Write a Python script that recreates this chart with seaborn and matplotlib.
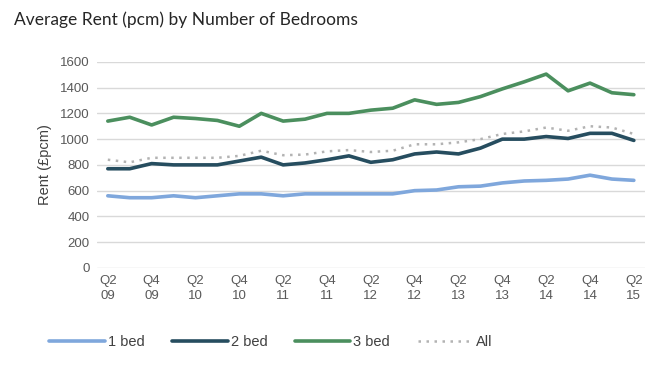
import numpy as np
import pandas as pd
import matplotlib
matplotlib.use("Agg")
import matplotlib.pyplot as plt
import seaborn as sns

# quarters Q2 2009 .. Q2 2015
quarters = ["Q2 09", "Q3 09", "Q4 09", "Q1 10", "Q2 10", "Q3 10", "Q4 10", "Q1 11",
            "Q2 11", "Q3 11", "Q4 11", "Q1 12", "Q2 12", "Q3 12", "Q4 12", "Q1 13",
            "Q2 13", "Q3 13", "Q4 13", "Q1 14", "Q2 14", "Q3 14", "Q4 14", "Q1 15",
            "Q2 15"]

one_bed = [560, 545, 545, 560, 545, 560, 575, 575, 560, 575, 575, 575, 575,
           575, 600, 605, 630, 635, 660, 675, 680, 690, 720, 690, 680]
two_bed = [770, 770, 810, 800, 800, 800, 830, 860, 800, 815, 840, 870, 820,
           840, 885, 900, 885, 930, 1000, 1000, 1020, 1005, 1045, 1045, 990]
three_bed = [1140, 1170, 1110, 1170, 1160, 1145, 1100, 1200, 1140, 1155, 1200, 1200, 1225,
             1240, 1305, 1270, 1285, 1330, 1390, 1445, 1505, 1375, 1435, 1360, 1345]
all_beds = [840, 820, 855, 855, 855, 855, 870, 910, 875, 880, 905, 915, 900,
            910, 960, 960, 975, 1000, 1040, 1060, 1090, 1065, 1100, 1090, 1040]

y_ticks = [0, 200, 400, 600, 800, 1000, 1200, 1400, 1600]

series = {"1 bed": one_bed, "2 bed": two_bed, "3 bed": three_bed, "All": all_beds}
colors = {"1 bed": "#7fa7dc", "2 bed": "#264d5f", "3 bed": "#4b8f5e", "All": "#b3b3b3"}

rows = []
for name, vals in series.items():
    for i, v in enumerate(vals):
        rows.append({"idx": i, "Quarter": quarters[i], "Rent": v, "Type": name})
df = pd.DataFrame(rows)

sns.set_theme(style="white")
plt.rcParams['font.family'] = ['Liberation Sans', 'DejaVu Sans']

fig = plt.figure(figsize=(6.5, 3.66), dpi=100)
ax = fig.add_axes([0.149, 0.268, 0.843, 0.563])

for name in ["1 bed", "2 bed", "3 bed"]:
    sns.lineplot(data=df[df["Type"] == name], x="idx", y="Rent", ax=ax,
                 color=colors[name], linewidth=2.6, label=name)
sns.lineplot(data=df[df["Type"] == "All"], x="idx", y="Rent", ax=ax,
             color=colors["All"], linewidth=1.8, label="All")
ax.lines[-1].set_linestyle((0, (1, 2.2)))

ax.set_xlim(-0.5, len(quarters) - 0.5)
ax.set_ylim(0, 1600)
ax.set_yticks(y_ticks)
ax.set_yticklabels([str(t) for t in y_ticks], fontsize=9.5, color="#595959")
tick_pos = list(range(0, len(quarters), 2))
ax.set_xticks(tick_pos)
ax.set_xticklabels([quarters[i].replace(" ", "\n") for i in tick_pos],
                   fontsize=9.5, color="#595959", linespacing=1.3)
ax.tick_params(axis="both", length=0, pad=5)
ax.grid(True, axis="y", color="#d9d9d9", linewidth=1)
ax.set_axisbelow(True)
for s in ax.spines.values():
    s.set_visible(False)
ax.set_xlabel("")
ax.set_ylabel("Rent (£pcm)", fontsize=10.5, color="#404040", labelpad=6)

ax.legend(loc="upper center", bbox_to_anchor=(0.318, -0.26), ncol=4, frameon=False,
          fontsize=10.5, handlelength=3.8, handletextpad=0.2, columnspacing=1.9,
          labelcolor="#404040")

fig.text(0.022, 0.945, "Average Rent (pcm) by Number of Bedrooms", fontsize=12.5,
         color="#262626", family=["Lato", "DejaVu Sans"], va="center", ha="left")

fig.savefig("out.png", dpi=100)
